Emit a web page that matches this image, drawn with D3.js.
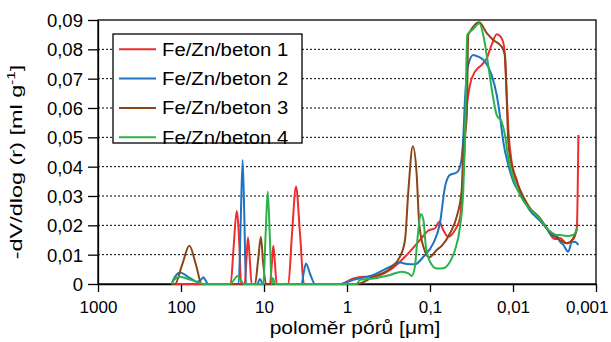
<!DOCTYPE html>
<html>
<head>
<meta charset="utf-8">
<script src="https://cdn.jsdelivr.net/npm/d3@7"></script>
<style>
  body { margin: 0; background: #fff; }
  text { font-family: "Liberation Sans", Arial, sans-serif; fill: #000; }
</style>
</head>
<body>
<div id="chart"></div>
<script>
// tick values and labels (Czech decimal comma)
const xTicks = [1000, 100, 10, 1, 0.1, 0.01, 0.001];
const xTickLabels = ["1000", "100", "10", "1", "0,1", "0,01", "0,001"];
const yTicks = [0, 0.01, 0.02, 0.03, 0.04, 0.05, 0.06, 0.07, 0.08, 0.09];
const yTickLabels = ["0", "0,01", "0,02", "0,03", "0,04", "0,05", "0,06", "0,07", "0,08", "0,09"];

const seriesNames = ["Fe/Zn/beton 1", "Fe/Zn/beton 2", "Fe/Zn/beton 3", "Fe/Zn/beton 4"];
const seriesColors = ["#ee2e2e", "#1f74c2", "#8b4516", "#2bb24c"];

// [pore radius in um, -dV/dlog(r) in ml/g]
const beton1 = [
  [129, 0],
  [25.2, 0], [23.3, 0.012], [21.3, 0.0249], [19.7, 0.012], [18.9, 0],
  [17.1, 0], [16.3, 0.008], [15.6, 0.0159], [14.8, 0.008], [14.1, 0],
  [8.47, 0], [8.07, 0.0065], [7.72, 0.013], [7.36, 0.0065], [7.03, 0],
  [5.09, 0], [4.6, 0.017], [4.11, 0.0332], [3.68, 0.017], [3.3, 0],
  [1.21, 0], [0.839, 0.0019], [0.637, 0.0025], [0.482, 0.0025], [0.303, 0.0048],
  [0.191, 0.0099], [0.132, 0.015], [0.105, 0.0182], [0.0871, 0.019], [0.0772, 0.0212],
  [0.0692, 0.0184], [0.0602, 0.0161], [0.05, 0.0184], [0.0435, 0.0225], [0.0397, 0.038],
  [0.0361, 0.06], [0.033, 0.0678], [0.0287, 0.0724], [0.0238, 0.0747], [0.0207, 0.077],
  [0.0181, 0.0815], [0.0157, 0.0851], [0.0141, 0.0843], [0.0128, 0.0809], [0.0121, 0.069],
  [0.0114, 0.0531], [0.0104, 0.0417], [0.00902, 0.0355], [0.00824, 0.0315], [0.00752, 0.0295],
  [0.00624, 0.0258], [0.00473, 0.0224], [0.00393, 0.019], [0.00327, 0.0156], [0.00298, 0.0153],
  [0.00272, 0.0157], [0.00225, 0.0139], [0.00188, 0.0153], [0.0017, 0.0195], [0.00163, 0.0508]
];
const beton2 = [
  [129, 0], [124.7, 0.0012], [112, 0.0033], [102.8, 0.0039], [90, 0.0032], [80, 0.0022],
  [70, 0.0012], [64.7, 0.0007], [57, 0.0015], [53.8, 0.0023], [50.5, 0.0012], [47.3, 0],
  [20.2, 0], [19.1, 0.021], [18.1, 0.0423], [17.2, 0.021], [16.5, 0],
  [12.1, 0], [11.2, 0.0017], [10.3, 0],
  [3.52, 0], [3.34, 0.0035], [3.12, 0.007], [2.79, 0.0035], [2.43, 0],
  [1.21, 0], [0.839, 0.0014], [0.482, 0.0031], [0.303, 0.0059], [0.23, 0.0073],
  [0.191, 0.0068], [0.152, 0.0067], [0.12, 0.0093], [0.0912, 0.0139], [0.0759, 0.0207],
  [0.0659, 0.0332], [0.0574, 0.0372], [0.0476, 0.038], [0.0435, 0.04], [0.0415, 0.043],
  [0.0397, 0.05], [0.0378, 0.0634], [0.0346, 0.0747], [0.0301, 0.0781], [0.0262, 0.0775],
  [0.0217, 0.0758], [0.0181, 0.0713], [0.0157, 0.0644], [0.0144, 0.0576], [0.0131, 0.0485],
  [0.0114, 0.0406], [0.00991, 0.0349], [0.00824, 0.0309], [0.00624, 0.025], [0.00473, 0.0215],
  [0.00393, 0.019], [0.00327, 0.0162], [0.00298, 0.0165], [0.00272, 0.0144], [0.0025, 0.0135],
  [0.00216, 0.011], [0.00196, 0.0142], [0.00179, 0.0144], [0.00163, 0.0133]
];
const beton3 = [
  [129, 0], [118, 0], [97, 0.0065], [79.4, 0.013], [65.9, 0.0065], [56.4, 0],
  [12.8, 0], [11.8, 0.008], [10.9, 0.0161], [10.3, 0.008], [9.46, 0],
  [0.764, 0], [0.482, 0.0025], [0.303, 0.0053], [0.23, 0.0093], [0.2, 0.015],
  [0.182, 0.032], [0.161, 0.047], [0.145, 0.0377], [0.135, 0.0207], [0.12, 0.0127],
  [0.102, 0.0091], [0.083, 0.0116], [0.0723, 0.013], [0.0574, 0.0173], [0.0476, 0.023],
  [0.0415, 0.032], [0.0397, 0.046], [0.0361, 0.057], [0.0346, 0.0849], [0.033, 0.086],
  [0.0255, 0.0892], [0.0207, 0.0855], [0.0173, 0.0832], [0.0137, 0.0809], [0.0125, 0.078],
  [0.0119, 0.0633], [0.0114, 0.0485], [0.0104, 0.0406], [0.00902, 0.0349], [0.00752, 0.0298],
  [0.00624, 0.0258], [0.00473, 0.0224], [0.00393, 0.019], [0.00327, 0.0167], [0.00272, 0.015],
  [0.00225, 0.0139], [0.00188, 0.0156], [0.00168, 0.019]
];
const beton4 = [
  [129, 0], [124.7, 0.001], [102.8, 0.0025], [80, 0.0016], [64.7, 0.0008], [54, 0],
  [25.7, 0], [23, 0.0014], [21, 0.0027], [19.2, 0.0014], [17.4, 0],
  [10.2, 0], [9.59, 0.016], [9.02, 0.0315], [8.51, 0.016], [8.07, 0], [7.8, 0.002], [7.36, 0],
  [0.77, 0], [0.697, 0.0014], [0.482, 0.0019], [0.303, 0.0031], [0.219, 0.0042],
  [0.182, 0.0036], [0.166, 0.0027], [0.152, 0.0059], [0.142, 0.015], [0.129, 0.0239],
  [0.12, 0.0218], [0.112, 0.0127], [0.1, 0.0076], [0.083, 0.0053], [0.0692, 0.0054],
  [0.0574, 0.0076], [0.05, 0.0116], [0.0435, 0.0195], [0.0397, 0.032], [0.0378, 0.05],
  [0.0356, 0.0849], [0.0301, 0.0869], [0.0255, 0.0889], [0.0228, 0.0849], [0.0199, 0.0747],
  [0.0173, 0.0633], [0.0157, 0.0576], [0.0137, 0.0553], [0.0125, 0.0508], [0.0114, 0.0429],
  [0.00991, 0.036], [0.00824, 0.0303], [0.00624, 0.0255], [0.00473, 0.0222], [0.00393, 0.019],
  [0.00327, 0.0172], [0.00298, 0.0167], [0.00272, 0.0167], [0.00225, 0.0164], [0.00188, 0.0167],
  [0.00168, 0.019]
];
const allSeries = [beton1, beton2, beton3, beton4];

// frame
const WIDTH = 611;
const HEIGHT = 342;
const MARGINS = {left: 98, right: 15, top: 20, bottom: 58};

const svg = d3.select("#chart")
  .append("svg")
    .attr("width", WIDTH)
    .attr("height", HEIGHT);

const xScale = d3.scaleLog()
  .domain([1000, 0.001])
  .range([MARGINS.left, WIDTH - MARGINS.right]);

const yScale = d3.scaleLinear()
  .domain([0, 0.09])
  .range([HEIGHT - MARGINS.bottom, MARGINS.top]);

// dotted gridlines
svg.append("g")
  .selectAll("line")
  .data(yTicks.filter(d => d > 0 && d < 0.09))
  .enter()
  .append("line")
    .attr("x1", xScale(1000))
    .attr("x2", xScale(0.001))
    .attr("y1", d => yScale(d))
    .attr("y2", d => yScale(d))
    .attr("stroke", "#000")
    .attr("stroke-width", 1)
    .attr("stroke-dasharray", "2,2");

// plot border
svg.append("rect")
  .attr("x", xScale(1000))
  .attr("y", yScale(0.09))
  .attr("width", xScale(0.001) - xScale(1000))
  .attr("height", yScale(0) - yScale(0.09))
  .attr("fill", "none")
  .attr("stroke", "#000")
  .attr("stroke-width", 1.3);

// axes
const xAxis = d3.axisBottom(xScale)
  .tickValues(xTicks)
  .tickFormat((d, i) => xTickLabels[i])
  .tickSize(8)
  .tickSizeOuter(0);

const yAxis = d3.axisLeft(yScale)
  .tickValues(yTicks)
  .tickFormat((d, i) => yTickLabels[i])
  .tickSize(10)
  .tickSizeOuter(0);

const gx = svg.append("g")
  .attr("transform", `translate(0, ${yScale(0)})`)
  .call(xAxis);
gx.select(".domain").attr("stroke-width", 1.3);
gx.selectAll(".tick line").attr("stroke-width", 1.3);
gx.selectAll(".tick text")
  .attr("y", 29)
  .attr("dy", 0)
  .style("font-size", "17px");
// last label is pulled inside the picture, as in the original
gx.selectAll(".tick text")
  .filter(d => d === 0.001)
  .attr("text-anchor", "end")
  .attr("x", 12);

const gy = svg.append("g")
  .attr("transform", `translate(${xScale(1000)}, 0)`)
  .call(yAxis);
gy.select(".domain").attr("stroke-width", 1.3);
gy.selectAll(".tick line").attr("stroke-width", 1.3);
gy.selectAll(".tick text")
  .attr("x", -15 / 1.06)
  .attr("dy", "0.37em")
  .attr("transform", "scale(1.06,1)")
  .style("font-size", "17.5px");

// series lines
const line = d3.line()
  .x(d => xScale(d[0]))
  .y(d => yScale(d[1]))
  .curve(d3.curveMonotoneX);

svg.append("g")
  .selectAll("path")
  .data(allSeries)
  .enter()
  .append("path")
    .attr("d", d => line(d))
    .attr("fill", "none")
    .attr("stroke", (d, i) => seriesColors[i])
    .attr("stroke-width", 2)
    .attr("stroke-linejoin", "round");

// legend
const legend = svg.append("g");
legend.append("rect")
  .attr("x", 113)
  .attr("y", 34)
  .attr("width", 189)
  .attr("height", 109)
  .attr("fill", "#fff")
  .attr("stroke", "#000")
  .attr("stroke-width", 1.3);

seriesNames.forEach((name, i) => {
  const ly = 49.3 + i * 29.3;
  legend.append("line")
    .attr("x1", 119).attr("x2", 156)
    .attr("y1", ly).attr("y2", ly)
    .attr("stroke", seriesColors[i])
    .attr("stroke-width", 2);
  legend.append("text")
    .attr("transform", `translate(162, ${ly}) scale(1.16,1)`)
    .attr("dy", "0.36em")
    .style("font-size", "17.5px")
    .text(name);
});

// axis titles
svg.append("text")
  .attr("transform", "translate(355, 334) scale(1.2,1)")
  .attr("text-anchor", "middle")
  .style("font-size", "17.5px")
  .text("poloměr pórů [μm]");

const yTitle = svg.append("text")
  .attr("transform", "translate(22, 162) rotate(-90) scale(1.38,1)")
  .attr("text-anchor", "middle")
  .style("font-size", "17px");
yTitle.append("tspan").text("-dV/dlog (r) [ml g");
yTitle.append("tspan").attr("dy", -7).style("font-size", "11px").text("-1");
yTitle.append("tspan").attr("dy", 7).text("]");
</script>
</body>
</html>
